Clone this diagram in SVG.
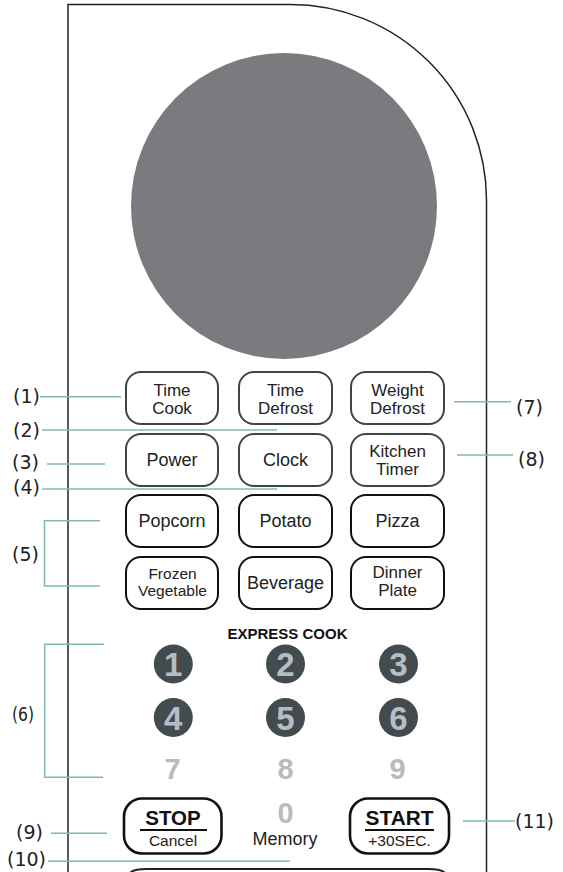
<svg xmlns="http://www.w3.org/2000/svg" width="563" height="872" viewBox="0 0 563 872">
<style>
.btnA{fill:#fff;stroke:#3d4646;stroke-width:2}
.btnB{fill:#fff;stroke:#111;stroke-width:2}
.btnC{fill:#fff;stroke:#111;stroke-width:2.6}
.bt{font-family:"Liberation Sans",Arial,sans-serif;font-size:18px;fill:#222;text-anchor:middle}
.b2{font-family:"Liberation Sans",Arial,sans-serif;font-size:17px;fill:#222;text-anchor:middle}
.bs{font-family:"Liberation Sans",Arial,sans-serif;font-size:15.5px;fill:#222;text-anchor:middle}
.lbl{font-family:"DejaVu Sans",sans-serif;font-size:19px;fill:#222}
.ld{stroke:#7fbcae;stroke-width:1.6;fill:none}
.nc{fill:#424b4d}
.nt{font-family:"Liberation Sans",Arial,sans-serif;font-weight:bold;font-size:33px;fill:#b6bcc2;text-anchor:middle}
.nl{font-family:"Liberation Sans",Arial,sans-serif;font-weight:bold;font-size:29px;fill:#b6bcc2;text-anchor:middle}
.bold{font-family:"Liberation Sans",Arial,sans-serif;font-weight:bold;fill:#111;text-anchor:middle}
</style>
<rect width="563" height="872" fill="#fff"/>
<g id="panel">
<path d="M68 872 L68 4.5 L290 4.5 A196 196 0 0 1 486.5 200 L486.5 872" fill="none" stroke="#222" stroke-width="1.5"/>
<path d="M130 873 Q133 869 147 869 L428 869 Q442 869 445 873" fill="none" stroke="#222" stroke-width="2"/>
</g>
<g id="display"><circle cx="284" cy="206" r="153" fill="#7a7b7e"/></g>

<g id="time-cook"><rect class="btnA" x="126" y="372" width="92" height="52" rx="15"/><text class="b2" x="172" y="395.5">Time</text><text class="b2" x="172" y="413.5">Cook</text></g>
<g id="time-defrost"><rect class="btnA" x="239" y="372" width="93" height="52" rx="15"/><text class="b2" x="285.5" y="395.5">Time</text><text class="b2" x="285.5" y="413.5">Defrost</text></g>
<g id="weight-defrost"><rect class="btnA" x="351" y="372" width="93" height="52" rx="15"/><text class="b2" x="397.5" y="395.5">Weight</text><text class="b2" x="397.5" y="413.5">Defrost</text></g>

<g id="power"><rect class="btnA" x="126" y="434" width="92" height="52" rx="15"/><text class="bt" x="172" y="466">Power</text></g>
<g id="clock"><rect class="btnA" x="239" y="434" width="93" height="52" rx="15"/><text class="bt" x="285.5" y="466">Clock</text></g>
<g id="kitchen-timer"><rect class="btnA" x="351" y="434" width="93" height="52" rx="15"/><text class="b2" x="397.5" y="456.5">Kitchen</text><text class="b2" x="397.5" y="475">Timer</text></g>

<g id="popcorn"><rect class="btnB" x="126" y="495" width="92" height="52" rx="15"/><text class="bt" x="172" y="527">Popcorn</text></g>
<g id="potato"><rect class="btnB" x="239" y="495" width="93" height="52" rx="15"/><text class="bt" x="285.5" y="527">Potato</text></g>
<g id="pizza"><rect class="btnB" x="351" y="495" width="93" height="52" rx="15"/><text class="bt" x="397.5" y="527">Pizza</text></g>

<g id="frozen-vegetable"><rect class="btnB" x="126" y="557" width="92" height="52" rx="15"/><text class="bs" x="172.5" y="579">Frozen</text><text class="bs" x="172.5" y="595.5">Vegetable</text></g>
<g id="beverage"><rect class="btnB" x="239" y="557" width="93" height="52" rx="15"/><text class="bt" x="285.5" y="589">Beverage</text></g>
<g id="dinner-plate"><rect class="btnB" x="351" y="557" width="93" height="52" rx="15"/><text class="b2" x="397.5" y="577.5">Dinner</text><text class="b2" x="397.5" y="596">Plate</text></g>

<g id="express-cook"><text class="bold" x="287.5" y="639" font-size="15">EXPRESS COOK</text></g>
<g id="n1"><circle class="nc" cx="173.3" cy="664" r="19.5"/><text class="nt" x="173.3" y="676">1</text></g>
<g id="n2"><circle class="nc" cx="285.5" cy="664" r="19.5"/><text class="nt" x="285.5" y="676">2</text></g>
<g id="n3"><circle class="nc" cx="398.5" cy="664" r="19.5"/><text class="nt" x="398.5" y="676">3</text></g>
<g id="n4"><circle class="nc" cx="173.3" cy="717.5" r="19.5"/><text class="nt" x="173.3" y="729.5">4</text></g>
<g id="n5"><circle class="nc" cx="285.5" cy="717.5" r="19.5"/><text class="nt" x="285.5" y="729.5">5</text></g>
<g id="n6"><circle class="nc" cx="398.5" cy="717.5" r="19.5"/><text class="nt" x="398.5" y="729.5">6</text></g>
<g id="n7"><text class="nl" x="172.5" y="779.3">7</text></g>
<g id="n8"><text class="nl" x="285.5" y="779.3">8</text></g>
<g id="n9"><text class="nl" x="397.5" y="779.3">9</text></g>
<g id="n0"><text class="nl" x="285.5" y="822.5" font-size="28">0</text><text class="bt" x="285" y="845" font-size="17.5">Memory</text></g>

<g id="stop"><rect class="btnC" x="124" y="798.5" width="97.5" height="55" rx="18"/><text class="bold" x="173" y="825" font-size="20.5">STOP</text><line x1="140" y1="830" x2="207" y2="830" stroke="#111" stroke-width="2"/><text class="bs" x="173" y="846" font-size="16">Cancel</text></g>
<g id="start"><rect class="btnC" x="350" y="798.5" width="99" height="55" rx="18"/><text class="bold" x="399.5" y="825" font-size="20.8">START</text><line x1="365" y1="830" x2="434" y2="830" stroke="#111" stroke-width="2"/><text class="bs" x="399.5" y="846" font-size="15.5">+30SEC.</text></g>

<g id="connectors">
<line class="ld" x1="40" y1="396.7" x2="121" y2="396.7"/>
<line class="ld" x1="42" y1="430" x2="277" y2="430"/>
<line class="ld" x1="47" y1="464" x2="105" y2="464"/>
<line class="ld" x1="42" y1="489" x2="277" y2="489"/>
<path class="ld" d="M100 520.7 H44.5 V586 H100"/>
<path class="ld" d="M104 644.3 H44.7 V777.3 H103"/>
<line class="ld" x1="51" y1="833.3" x2="107" y2="833.3"/>
<line class="ld" x1="48" y1="861.3" x2="290" y2="861.3"/>
<line class="ld" x1="454" y1="401.7" x2="511" y2="401.7"/>
<line class="ld" x1="457" y1="455" x2="513" y2="455"/>
<line class="ld" x1="463" y1="821" x2="515" y2="821"/>
</g>
<g id="labels">
<text class="lbl" x="13" y="402.5">(1)</text>
<text class="lbl" x="13" y="437">(2)</text>
<text class="lbl" x="12" y="469">(3)</text>
<text class="lbl" x="13" y="493.5">(4)</text>
<text class="lbl" x="12" y="561">(5)</text>
<text class="lbl" x="12" y="721" textLength="22" lengthAdjust="spacingAndGlyphs">(6)</text>
<text class="lbl" x="516" y="414">(7)</text>
<text class="lbl" x="518" y="466">(8)</text>
<text class="lbl" x="16" y="839">(9)</text>
<text class="lbl" x="7" y="866">(10)</text>
<text class="lbl" x="515" y="828">(11)</text>
</g>
</svg>
